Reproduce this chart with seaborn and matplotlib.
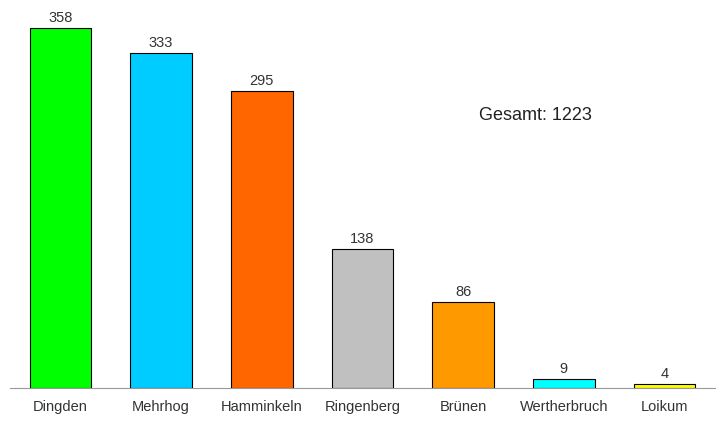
import matplotlib
matplotlib.use("Agg")
import matplotlib.pyplot as plt
import seaborn as sns
import pandas as pd

categories = ["Dingden", "Mehrhog", "Hamminkeln", "Ringenberg", "Brünen", "Wertherbruch", "Loikum"]
values = [358, 333, 295, 138, 86, 9, 4]
colors = ["#00FF00", "#00CCFF", "#FF6600", "#C0C0C0", "#FF9900", "#00FFFF", "#FFFF00"]

df = pd.DataFrame({"cat": categories, "val": values})
fig = plt.figure(figsize=(7.25, 4.31), dpi=100)
ax = fig.add_axes([10/725, 42/431, 705/725, 389/431])
sns.barplot(data=df, x="cat", y="val", hue="cat", palette=colors, legend=False,
            width=0.61, edgecolor="black", linewidth=0.8, ax=ax, saturation=1)
for i, v in enumerate(values):
    ax.text(i, v + 4, str(v), ha="center", va="bottom", fontsize=10.5, color="#333333", family="Liberation Sans")
ax.text(4.72, 272, f"Gesamt: {sum(values)}", ha="center", va="center", fontsize=13, color="#222222", family="Liberation Sans")
ax.set_xlim(-0.5, 6.5)
ax.set_ylim(0, 387)
ax.set_xlabel(""); ax.set_ylabel("")
ax.set_yticks([])
for s in ["top", "right", "left"]:
    ax.spines[s].set_visible(False)
ax.spines["bottom"].set_color("#999999")
ax.tick_params(axis="x", length=0, pad=8, labelsize=10.5, labelcolor="#333333")
for t in ax.get_xticklabels():
    t.set_family("Liberation Sans")
fig.savefig("out.png", dpi=100)
